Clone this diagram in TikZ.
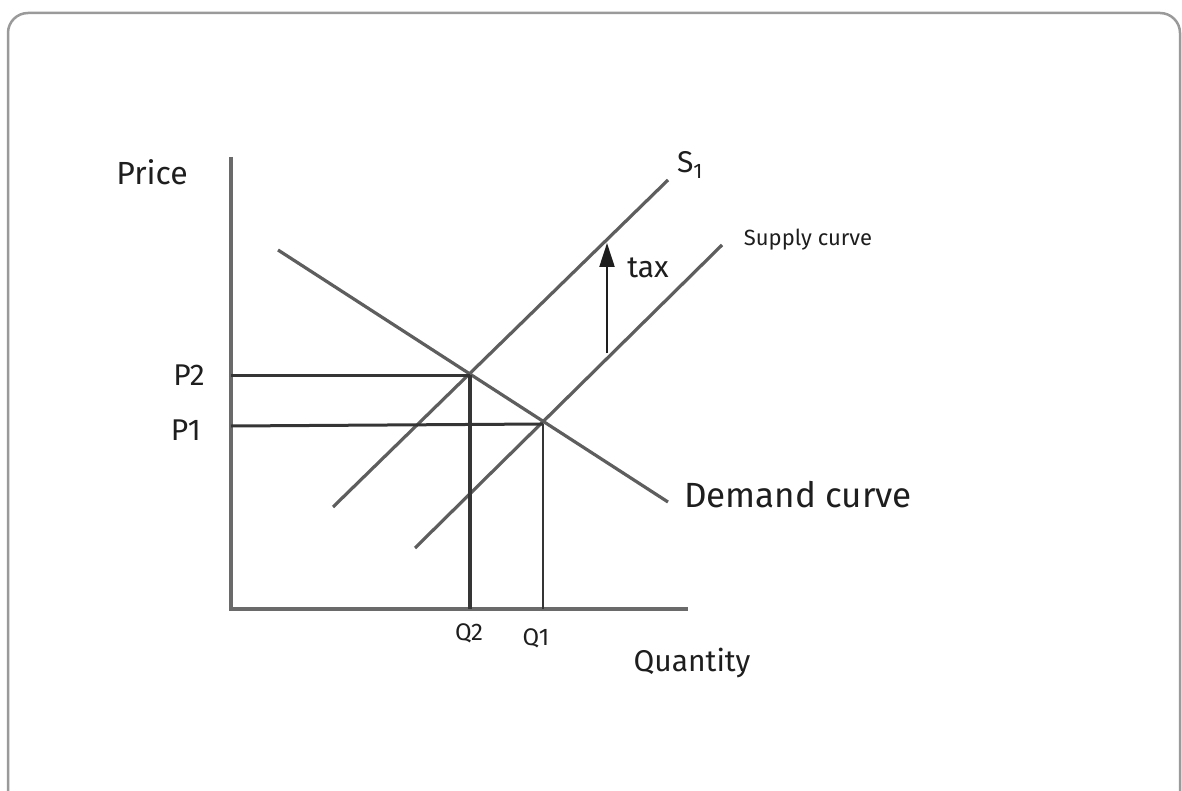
\documentclass[tikz,border=0pt]{standalone}
\usepackage{fontspec}
\setmainfont{Fira Sans}
\usepackage{xcolor}
\definecolor{frameGray}{HTML}{9A9A9A}
\definecolor{axisGray}{HTML}{6A6A6A}
\definecolor{curveGray}{HTML}{5E5E5E}
\definecolor{guideDark}{HTML}{353535}
\definecolor{inkText}{HTML}{1E1E1E}
\usepackage{tikz}
\usetikzlibrary{
    arrows.meta,
    positioning
}
\tikzset{
    % Outer card frame
    card frame/.style={
        draw=frameGray,
        line width=2.5pt,
        rounded corners=20pt,
    },
    % Axes of the graph
    axis line/.style={
        draw=axisGray,
        line width=3.4pt,
    },
    % Supply and demand lines
    curve line/.style={
        draw=curveGray,
        line width=3.2pt,
    },
    % Guides from the equilibria
    guide line/.style={
        draw=guideDark,
        line width=3pt,
    },
    % Tax shift arrow
    tax arrow/.style={
        -{Triangle[length=24pt, width=15pt]},
        draw=inkText,
        line width=2.2pt,
    },
    % Hand-lettered labels
    hand label/.style={
        font=\fontsize{30}{32}\selectfont,
        text=inkText,
        inner sep=0pt,
    },
}

\begin{document}
\begin{tikzpicture}[x=1pt, y=-1pt, node distance=26pt]
    \useasboundingbox (0,0) rectangle (1182,791);
    \draw [card frame] (8,820) -- (8,13) -- (1180,13) -- (1180,820);

    % axes and key points
    \coordinate (origin) at (231,609);
    \coordinate (ytop) at (231,157);
    \coordinate (xend) at (688,609);
    \coordinate (p2) at (231,375);
    \coordinate (p1) at (231,426);
    \coordinate (eqTax) at (470,375);
    \coordinate (eqOld) at (543,424);
    \coordinate (dStart) at (278,250);
    \coordinate (dEnd) at (668,502);
    \coordinate (sOneStart) at (333,507);
    \coordinate (sOneEnd) at (668,180);
    \coordinate (sStart) at (415,548);
    \coordinate (sEnd) at (722,245);
    \coordinate (taxFoot) at (607,353);
    \coordinate (taxTip) at (607,243);

    \draw [axis line] (ytop) -- (origin) -- (xend);
    \draw [curve line] (dStart) -- (dEnd);
    \draw [curve line] (sOneStart) -- (sOneEnd);
    \draw [curve line] (sStart) -- (sEnd);
    \draw [guide line] (p2) -- (eqTax);
    \draw [guide line] (p1) -- (eqOld);
    \draw [guide line, line width=4pt] (eqTax) -- (eqTax |- origin);
    \draw [guide line, line width=2.2pt] (eqOld) -- (eqOld |- origin);
    \draw [tax arrow] (taxFoot) -- (taxTip);

    % labels
    \node (price) [hand label, font=\fontsize{32}{34}\selectfont] at (152,172) {Price};
    \node (lblP2) [hand label, left=of p2] {P2};
    \node (lblP1) [hand label, left=30pt of p1, yshift=-4pt] {P1};
    \node (lblQ2) [hand label, font=\fontsize{24}{26}\selectfont] at (469,633) {Q2};
    \node (lblQ1) [hand label, font=\fontsize{24}{26}\selectfont] at (536,638) {Q1};
    \node (quantity) [hand label] at (692,663) {Quantity};
    \node (sOneLbl) [hand label] at (690,165) {S\textsubscript{1}};
    \node (supplyLbl) [hand label, font=\fontsize{22}{24}\selectfont] at (808,240) {Supply curve};
    \node (taxLbl) [hand label] at (648,268) {tax};
    \node (demandLbl) [hand label, font=\fontsize{35}{37}\selectfont] at (798,495) {Demand curve};
\end{tikzpicture}
\end{document}
